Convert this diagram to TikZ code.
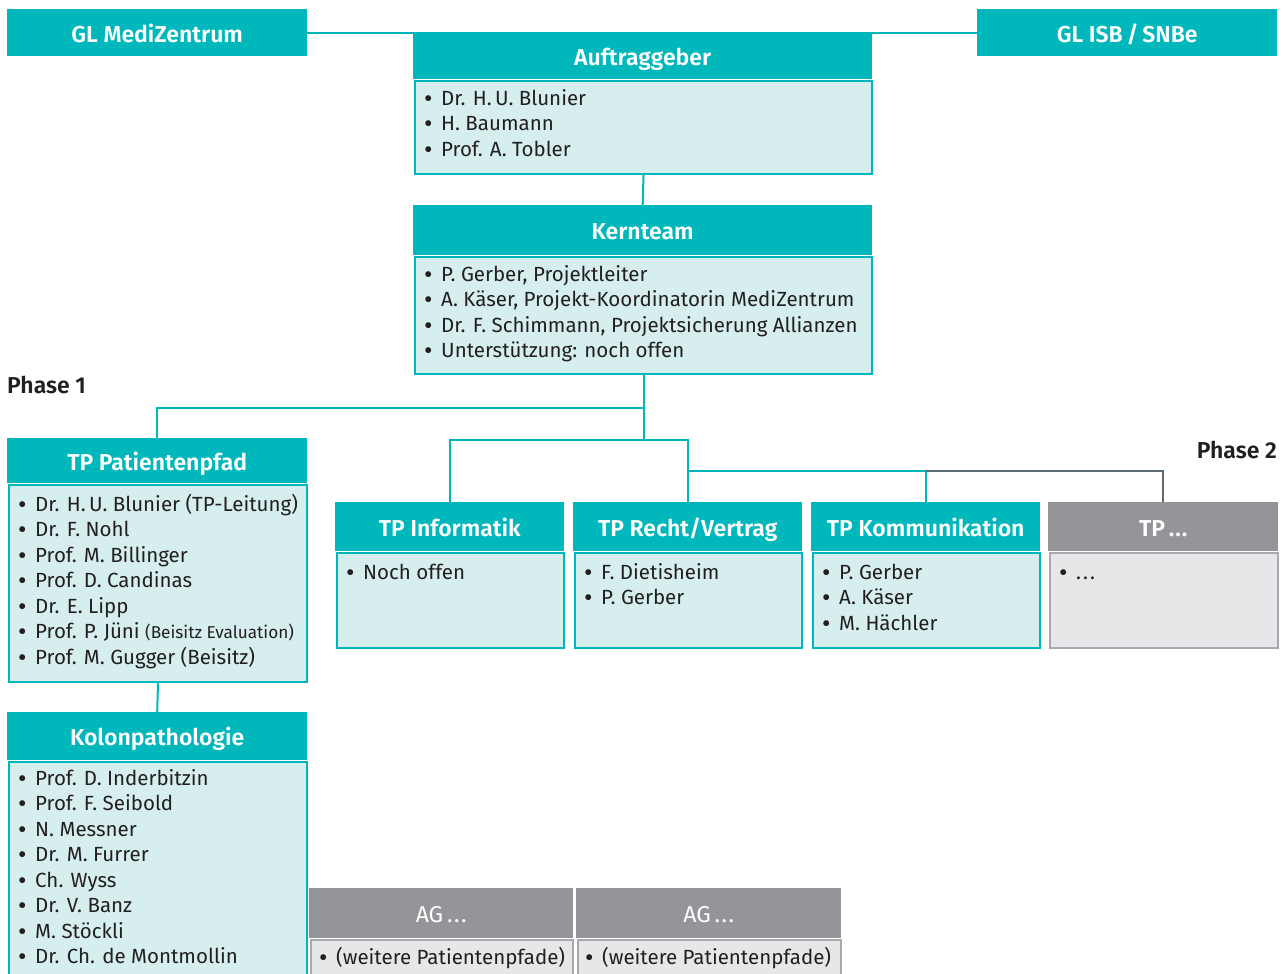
\documentclass[tikz,border=0pt]{standalone}
\usepackage{fontspec}
\setmainfont{Fira Sans}[BoldFont={Fira Sans SemiBold}]
\definecolor{tealH}{HTML}{00B8BB}
\definecolor{tealB}{HTML}{D6EEEE}
\definecolor{grayH}{HTML}{939598}
\definecolor{grayB}{HTML}{E6E7E8}
\definecolor{grayL}{HTML}{A7A9AC}
\definecolor{darkline}{HTML}{5E6A71}
\definecolor{txt}{HTML}{231F20}
\newcommand{\bul}{\makebox[17pt][l]{\raisebox{-2.2pt}{\fontsize{26}{25.5}\selectfont •}}}
\begin{document}
\begin{tikzpicture}[x=1pt,y=-1pt,
  hdr/.style={fill=tealH, text=white, anchor=north west, inner sep=0pt,
    text height=19pt, text depth=0pt,
    font=\fontsize{23}{27}\selectfont\bfseries},
  ghdr/.style={hdr, fill=grayH},
  bdy/.style={fill=tealB, draw=tealH, line width=2pt, anchor=north west, inner sep=0pt},
  gbdy/.style={bdy, fill=grayB, draw=grayL},
  items/.style={anchor=north west, inner sep=0pt, align=left, text=txt,
    font=\fontsize{20.5}{25.5}\selectfont},
  phase/.style={inner sep=0pt, text=txt, font=\fontsize{23}{27}\selectfont\bfseries},
  conn/.style={draw=tealH, line width=2pt},
  gconn/.style={draw=darkline, line width=2pt}
]
\useasboundingbox (0,0) rectangle (1283,974);

% top GL boxes
\node[hdr, minimum width=300pt, minimum height=47pt] (glm) at (7,9) {GL MediZentrum};
\node[hdr, minimum width=300pt, minimum height=47pt] (gli) at (977,9) {GL ISB\,/\,SNBe};
\draw[conn] (glm.east) -- (gli.west);

% Auftraggeber
\node[hdr, minimum width=459pt, minimum height=46pt] (aufh) at (413,33) {Auftraggeber};
\node[bdy, minimum width=457pt, minimum height=93pt] (aufb) at (414,80) {};
\node[items] (auft) at (424,87) {\strut\bul Dr. H.\,U. Blunier\\\bul H. Baumann\\\bul Prof. A. Tobler};

% Kernteam
\node[hdr, minimum width=459pt, minimum height=50pt] (kerh) at (413,205) {Kernteam};
\node[bdy, minimum width=457pt, minimum height=117pt] (kerb) at (414,256) {};
\node[items] (kert) at (424,263) {\strut\bul P. Gerber, Projektleiter\\\bul A. Käser, Projekt-Koordinatorin MediZentrum\\\bul Dr. F. Schimmann, Projektsicherung Allianzen\\\bul Unterstützung: noch offen};
\draw[conn] (aufb.south) -- (kerh.north);

% Phase labels
\node[phase, anchor=west] (ph1) at (7,385) {Phase 1};
\node[phase, anchor=east] (ph2) at (1277,450) {Phase 2};

% TP Patientenpfad
\node[hdr, minimum width=300pt, minimum height=45pt] (tpph) at (7,438) {TP Patientenpfad};
\node[bdy, minimum width=298pt, minimum height=197pt] (tppb) at (8,484) {};
\node[items] (tppt) at (18,493) {\strut\bul Dr. H.\,U. Blunier (TP-Leitung)\\\bul Dr. F. Nohl\\\bul Prof. M. Billinger\\\bul Prof. D. Candinas\\\bul Dr. E. Lipp\\\bul Prof. P. Jüni {\fontsize{17.2}{25.5}\selectfont(Beisitz Evaluation)}\\\bul Prof. M. Gugger (Beisitz)};

% Kolonpathologie
\node[hdr, minimum width=300pt, minimum height=48pt] (kolh) at (7,712) {Kolonpathologie};
\node[bdy, minimum width=298pt, minimum height=230pt] (kolb) at (8,761) {};
\node[items] (kolt) at (18,767) {\strut\bul Prof. D. Inderbitzin\\\bul Prof. F. Seibold\\\bul N. Messner\\\bul Dr. M. Furrer\\\bul Ch. Wyss\\\bul Dr. V. Banz\\\bul M. Stöckli\\\bul Dr. Ch. de Montmollin};
\draw[conn] (tppb.south) -- (kolh.north);

% TP row
\node[hdr, minimum width=229pt, minimum height=49pt] (infh) at (335,502) {TP Informatik};
\node[bdy, minimum width=227pt, minimum height=95pt] (infb) at (336,552) {};
\node[items] (inft) at (346,561) {\strut\bul Noch offen};

\node[hdr, minimum width=229pt, minimum height=49pt] (rech) at (573,502) {TP Recht/Vertrag};
\node[bdy, minimum width=227pt, minimum height=95pt] (recb) at (574,552) {};
\node[items] (rect) at (584,561) {\strut\bul F. Dietisheim\\\bul P. Gerber};

\node[hdr, minimum width=229pt, minimum height=49pt] (komh) at (811,502) {TP Kommunikation};
\node[bdy, minimum width=227pt, minimum height=95pt] (komb) at (812,552) {};
\node[items] (komt) at (822,561) {\strut\bul P. Gerber\\\bul A. Käser\\\bul M. Hächler};

\node[ghdr, minimum width=230pt, minimum height=49pt] (tpxh) at (1048,502) {TP\,.\kern1pt.\kern1pt.};
\node[gbdy, minimum width=228pt, minimum height=95pt] (tpxb) at (1049,552) {};
\node[items] (tpxt) at (1059,561) {\strut\bul .\kern2pt.\kern2pt.};

% AG boxes
\node[ghdr, minimum width=264pt, minimum height=50pt, font=\fontsize{23}{27}\selectfont\mdseries] (ag1h) at (309,888) {AG\,.\kern1.5pt.\kern1.5pt.};
\node[gbdy, minimum width=262pt, minimum height=50pt] (ag1b) at (310,939) {};
\node[items] (ag1t) at (319,946) {\strut\bul(weitere Patientenpfade)};
\node[ghdr, minimum width=265pt, minimum height=50pt, font=\fontsize{23}{27}\selectfont\mdseries] (ag2h) at (576,888) {AG\,.\kern1.5pt.\kern1.5pt.};
\node[gbdy, minimum width=263pt, minimum height=50pt] (ag2b) at (577,939) {};
\node[items] (ag2t) at (585,946) {\strut\bul(weitere Patientenpfade)};

% connectors from Kernteam
\path (kerb.south) ++(0,33) coordinate (j1);
\path (kerb.south) ++(0,65) coordinate (j2);
\path (rech.north) ++(0,-31) coordinate (j3);
\draw[conn] (kerb.south) -- (j2);
\draw[conn] (j1) -| (tpph.north);
\draw[conn] (j2) -| (infh.north);
\draw[conn] (j2) -| (rech.north);
\draw[conn] (j3) -| (komh.north);
\draw[gconn] (komh.north |- j3) -| (tpxh.north);
\end{tikzpicture}
\end{document}
